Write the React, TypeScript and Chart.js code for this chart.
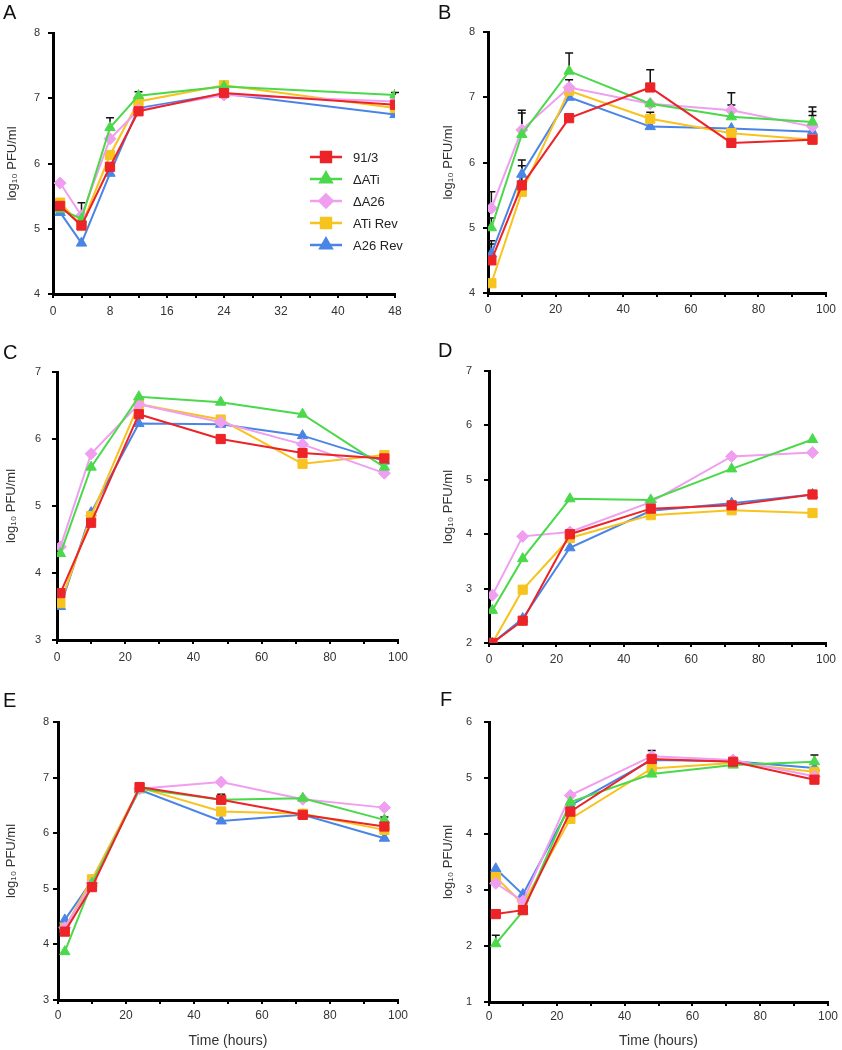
import React, { useEffect, useRef } from 'react';
import { Chart, registerables } from 'chart.js';
import { drawPoint } from 'chart.js/helpers';

Chart.register(...registerables);

// ---- series definitions ----
const seriesNames = ['91/3', 'ΔATi', 'ΔA26', 'ATi Rev', 'A26 Rev'];
const seriesColors = ['#ec2327', '#4bd94b', '#f09ef0', '#f7c31f', '#4a85e6'];
const seriesMarkers = ['rect', 'triangle', 'rectRot', 'rect', 'triangle'];
const markerRadius = [6.5, 6, 6, 6.5, 6];

// ---- time points (hours) ----
const hoursA = [1, 4, 8, 12, 24, 48];
const hoursBCD = [1, 10, 24, 48, 72, 96];
const hoursEF = [2, 10, 24, 48, 72, 96];

// ---- Panel A ----
const a913 = [5.35, 5.05, 5.95, 6.8, 7.08, 6.9];
const aATi = [5.3, 5.15, 6.55, 7.04, 7.18, 7.05];
const aA26 = [5.7, 5.2, 6.38, 6.82, 7.05, 6.95];
const aATiRev = [5.4, 5.05, 6.13, 6.95, 7.2, 6.85];
const aA26Rev = [5.25, 4.78, 5.85, 6.85, 7.07, 6.75];
const aErrATi = [0, 0.25, 0.15, 0.06, 0, 0.04];

// ---- Panel B ----
const b913 = [4.5, 5.65, 6.68, 7.15, 6.3, 6.35];
const bATi = [5.0, 6.43, 7.4, 6.9, 6.7, 6.62];
const bA26 = [5.3, 6.5, 7.15, 6.9, 6.8, 6.55];
const bATiRev = [4.15, 5.55, 7.1, 6.67, 6.45, 6.35];
const bA26Rev = [4.6, 5.82, 7.0, 6.55, 6.52, 6.47];
const bErr913 = [0.25, 0.3, 0, 0.27, 0, 0];
const bErrATi = [0.15, 0.33, 0.28, 0, 0.18, 0.16];
const bErrA26 = [0.25, 0.3, 0.12, 0, 0.27, 0.3];
const bErrATiRev = [0, 0, 0, 0.1, 0, 0];
const bErrA26Rev = [0.2, 0.22, 0, 0, 0, 0.25];

// ---- Panel C ----
const c913 = [3.7, 4.75, 6.37, 6.0, 5.79, 5.71];
const cATi = [4.29, 5.58, 6.63, 6.55, 6.37, 5.58];
const cA26 = [4.39, 5.78, 6.52, 6.25, 5.92, 5.49];
const cATiRev = [3.55, 4.85, 6.52, 6.29, 5.63, 5.76];
const cA26Rev = [3.5, 4.9, 6.23, 6.22, 6.05, 5.67];

// ---- Panel D ----
const d913 = [2.0, 2.41, 4.0, 4.47, 4.53, 4.73];
const dATi = [2.6, 3.55, 4.65, 4.63, 5.2, 5.74];
const dA26 = [2.88, 3.96, 4.04, 4.59, 5.43, 5.5];
const dATiRev = [2.0, 2.98, 3.93, 4.35, 4.44, 4.39];
const dA26Rev = [2.0, 2.45, 3.75, 4.43, 4.57, 4.73];

// ---- Panel E ----
const e913 = [4.23, 5.03, 6.83, 6.6, 6.33, 6.12];
const eATi = [3.87, 5.1, 6.8, 6.6, 6.63, 6.24];
const eA26 = [4.3, 5.1, 6.8, 6.92, 6.61, 6.46];
const eATiRev = [4.3, 5.17, 6.82, 6.39, 6.35, 6.06];
const eA26Rev = [4.44, 5.15, 6.78, 6.22, 6.33, 5.91];
const eErr913 = [0, 0, 0, 0.1, 0, 0];
const eErrATi = [0, 0, 0, 0, 0, 0.05];

// ---- Panel F ----
const f913 = [2.57, 2.64, 4.4, 5.34, 5.29, 4.97];
const fATi = [2.04, 2.62, 4.57, 5.07, 5.23, 5.29];
const fA26 = [3.12, 2.8, 4.69, 5.39, 5.32, 5.03];
const fATiRev = [3.23, 2.75, 4.27, 5.17, 5.27, 5.11];
const fA26Rev = [3.38, 2.92, 4.51, 5.32, 5.3, 5.18];
const fErr913 = [0, 0, 0, 0, 0.05, 0];
const fErrATi = [0.15, 0, 0, 0, 0, 0.12];
const fErrA26 = [0, 0, 0, 0.1, 0, 0];

const yAxisTitle = 'log₁₀ PFU/ml';
const xAxisTitle = 'Time (hours)';
const FONT = "'Liberation Sans', Arial, sans-serif";

const errorBarPlugin = {
  id: 'errorBars',
  beforeDatasetsDraw(chart: any) {
    const ctx = chart.ctx;
    const yScale = chart.scales.y;
    chart.data.datasets.forEach((ds: any, i: number) => {
      const errs = ds.errs;
      if (!errs) return;
      const meta = chart.getDatasetMeta(i);
      ds.data.forEach((p: any, j: number) => {
        const e = errs[j];
        if (!e) return;
        const el = meta.data[j];
        const x = el.x;
        const y0 = el.y;
        const y1 = yScale.getPixelForValue(p.y + e);
        ctx.save();
        ctx.strokeStyle = '#111';
        ctx.lineWidth = 1.5;
        ctx.beginPath();
        ctx.moveTo(x, y0);
        ctx.lineTo(x, y1);
        ctx.moveTo(x - 4, y1);
        ctx.lineTo(x + 4, y1);
        ctx.stroke();
        ctx.restore();
      });
    });
  },
};

const insideLegendPlugin = {
  id: 'insideLegend',
  afterDatasetsDraw(chart: any, _args: any, opts: any) {
    if (!opts || !opts.show) return;
    const ctx = chart.ctx;
    chart.data.datasets.forEach((ds: any, i: number) => {
      const y = opts.y0 + i * opts.dy;
      ctx.save();
      ctx.strokeStyle = ds.borderColor;
      ctx.fillStyle = ds.borderColor;
      ctx.lineWidth = 2.5;
      ctx.beginPath();
      ctx.moveTo(opts.x0, y);
      ctx.lineTo(opts.x0 + opts.len, y);
      ctx.stroke();
      drawPoint(ctx, { pointStyle: ds.pointStyle, radius: ds.pointRadius + 0.5, rotation: 0, borderWidth: 1 } as any, opts.x0 + opts.len / 2, y);
      ctx.fillStyle = '#222';
      ctx.font = `13px ${FONT}`;
      ctx.textBaseline = 'middle';
      ctx.textAlign = 'left';
      ctx.fillText(ds.label, opts.x0 + opts.len + 11, y + 1);
      ctx.restore();
    });
  },
};

type PanelProps = {
  letter: string;
  hours: number[];
  series: number[][];
  errs?: (number[] | null)[];
  yMin: number;
  yMax: number;
  xMax: number;
  xStep: number;
  labelEvery: number;
  left: number;
  top: number;
  width: number;
  height: number;
  padTop: number;
  padRight: number;
  yWidth: number;
  xHeight: number;
  yTitlePad: number;
  yTickPad: number;
  xTickPad: number;
  showXTitle?: boolean;
  legend?: boolean;
  letterX: number;
  letterY: number;
};

function Panel(p: PanelProps) {
  const ref = useRef<HTMLCanvasElement>(null);
  useEffect(() => {
    if (!ref.current) return;
    const datasets = p.series.map((vals, i) => ({
      label: seriesNames[i],
      data: p.hours.map((h, j) => ({ x: h, y: vals[j] })),
      borderColor: seriesColors[i],
      backgroundColor: seriesColors[i],
      pointBackgroundColor: seriesColors[i],
      pointBorderColor: seriesColors[i],
      pointStyle: seriesMarkers[i],
      pointRadius: markerRadius[i],
      pointBorderWidth: 1,
      borderWidth: 2,
      tension: 0,
      errs: p.errs ? p.errs[i] : null,
    }));
    const chart = new Chart(ref.current, {
      type: 'line',
      data: { datasets: datasets as any },
      plugins: [errorBarPlugin, insideLegendPlugin],
      options: {
        animation: false,
        responsive: false,
        maintainAspectRatio: false,
        layout: { padding: { top: p.padTop, right: p.padRight, left: 0, bottom: 0 } },
        plugins: {
          legend: { display: false },
          tooltip: { enabled: false },
          title: { display: false },
          insideLegend: { show: !!p.legend, x0: 310, len: 32, y0: 157, dy: 22 },
        } as any,
        scales: {
          x: {
            type: 'linear',
            min: 0,
            max: p.xMax,
            afterFit: (s: any) => {
              s.height = p.xHeight;
            },
            ticks: {
              stepSize: p.xStep,
              autoSkip: false,
              maxRotation: 0,
              padding: p.xTickPad,
              color: '#333',
              font: { family: FONT, size: 12 },
              callback: (v: any) => (Number(v) % p.labelEvery === 0 ? String(v) : ''),
            },
            grid: { display: true, drawOnChartArea: false, drawTicks: true, tickLength: 4, color: '#000', lineWidth: 2 },
            border: { display: true, color: '#000', width: 3 },
            title: {
              display: !!p.showXTitle,
              text: xAxisTitle,
              color: '#333',
              font: { family: FONT, size: 14 },
              padding: { top: 0, bottom: 0 },
            },
          },
          y: {
            type: 'linear',
            min: p.yMin,
            max: p.yMax,
            afterFit: (s: any) => {
              s.width = p.yWidth;
            },
            ticks: {
              stepSize: 1,
              padding: p.yTickPad,
              color: '#333',
              font: { family: FONT, size: 11 },
            },
            grid: { display: true, drawOnChartArea: false, drawTicks: true, tickLength: 5, color: '#000', lineWidth: 2 },
            border: { display: true, color: '#000', width: 3 },
            title: {
              display: true,
              text: yAxisTitle,
              color: '#333',
              font: { family: FONT, size: 13 },
              padding: { top: p.yTitlePad, bottom: 0 },
            },
          },
        },
      },
    });
    return () => chart.destroy();
  }, []);
  return (
    <>
      <canvas
        ref={ref}
        width={p.width}
        height={p.height}
        style={{ position: 'absolute', left: p.left, top: p.top, width: p.width, height: p.height }}
      />
      <div
        style={{
          position: 'absolute',
          left: p.left + p.letterX,
          top: p.top + p.letterY,
          fontFamily: FONT,
          fontSize: 20,
          lineHeight: '20px',
          color: '#111',
        }}
      >
        {p.letter}
      </div>
    </>
  );
}

export default function App() {
  return (
    <div style={{ position: 'absolute', left: 0, top: 0, width: 842, height: 1050, background: '#fff', overflow: 'hidden' }}>
      <Panel
        letter="A" hours={hoursA} series={[a913, aATi, aA26, aATiRev, aA26Rev]}
        errs={[null, aErrATi, null, null, null]}
        yMin={4} yMax={8} xMax={48} xStep={4} labelEvery={8}
        left={0} top={0} width={421} height={340}
        padTop={33} padRight={26} yWidth={53} xHeight={46}
        yTitlePad={5} yTickPad={8} xTickPad={6} legend
        letterX={3} letterY={2}
      />
      <Panel
        letter="B" hours={hoursBCD} series={[b913, bATi, bA26, bATiRev, bA26Rev]}
        errs={[bErr913, bErrATi, bErrA26, bErrATiRev, bErrA26Rev]}
        yMin={4} yMax={8} xMax={100} xStep={10} labelEvery={20}
        left={421} top={0} width={421} height={340}
        padTop={32} padRight={16} yWidth={67} xHeight={47}
        yTitlePad={20} yTickPad={8} xTickPad={5}
        letterX={17} letterY={2}
      />
      <Panel
        letter="C" hours={hoursBCD} series={[c913, cATi, cA26, cATiRev, cA26Rev]}
        yMin={3} yMax={7} xMax={100} xStep={10} labelEvery={20}
        left={0} top={340} width={421} height={340}
        padTop={32} padRight={23} yWidth={57} xHeight={40}
        yTitlePad={4} yTickPad={11} xTickPad={6}
        letterX={3} letterY={2}
      />
      <Panel
        letter="D" hours={hoursBCD} series={[d913, dATi, dA26, dATiRev, dA26Rev]}
        yMin={2} yMax={7} xMax={100} xStep={10} labelEvery={20}
        left={421} top={340} width={421} height={340}
        padTop={31} padRight={16} yWidth={68} xHeight={37}
        yTitlePad={20} yTickPad={12} xTickPad={5}
        letterX={17} letterY={0}
      />
      <Panel
        letter="E" hours={hoursEF} series={[e913, eATi, eA26, eATiRev, eA26Rev]}
        errs={[eErr913, eErrATi, null, null, null]}
        yMin={3} yMax={8} xMax={100} xStep={10} labelEvery={20}
        left={0} top={680} width={421} height={370}
        padTop={42} padRight={23} yWidth={58} xHeight={50}
        yTitlePad={4} yTickPad={4} xTickPad={4} showXTitle
        letterX={3} letterY={10}
      />
      <Panel
        letter="F" hours={hoursEF} series={[f913, fATi, fA26, fATiRev, fA26Rev]}
        errs={[fErr913, fErrATi, fErrA26, null, null]}
        yMin={1} yMax={6} xMax={100} xStep={10} labelEvery={20}
        left={421} top={680} width={421} height={370}
        padTop={42} padRight={14} yWidth={68} xHeight={48}
        yTitlePad={20} yTickPad={12} xTickPad={3} showXTitle
        letterX={19} letterY={9}
      />
    </div>
  );
}
